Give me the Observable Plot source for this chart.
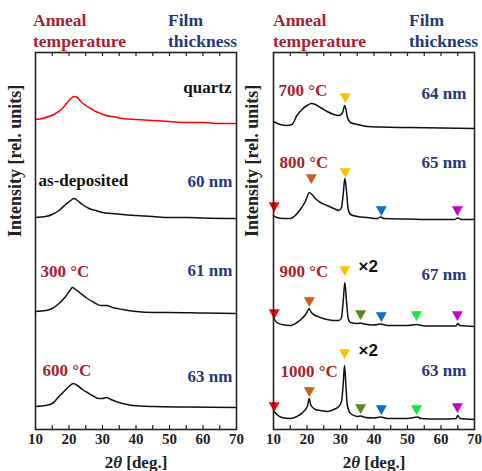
<!DOCTYPE html>
<html><head><meta charset="utf-8">
<script src="https://cdn.jsdelivr.net/npm/d3@7"></script>
<script src="https://cdn.jsdelivr.net/npm/@observablehq/plot@0.6"></script>
<style>
body{margin:0;background:#fff;font-family:'Liberation Serif','DejaVu Serif','Times New Roman',serif;}
#wrap{position:relative;width:482px;height:471px;overflow:hidden;}
.col{position:absolute;top:0;width:241px;height:471px;}
.hdr{position:absolute;top:10px;font-family:'Liberation Serif','DejaVu Serif',serif;font-weight:bold;font-size:17.5px;line-height:21px;white-space:pre;}
.red{color:#a5232b}.blue{color:#1f3b7a}
.plot{position:absolute;top:50px;left:0;}
svg{overflow:visible;}
svg text{font-family:'Liberation Serif','DejaVu Serif',serif;}
svg text.sans{font-family:'Liberation Sans','DejaVu Sans',sans-serif;}
</style></head><body>
<div id="wrap"></div>
<script>
// ---------- data ----------
const xTicks = [10, 20, 30, 40, 50, 60, 70];
const headers = ["Anneal\ntemperature", "Film\nthickness"];

// left panel
const leftNames = ["quartz", "as-deposited", "300 °C", "600 °C"];
const leftThickness = ["", "60 nm", "61 nm", "63 nm"];
const leftOffsets = [306, 211, 116, 22];
const quartz = [[10,4],[12,5],[14,7],[16,10],[18,15],[19.5,21],[20.5,25],[21.5,27],[22.5,26],[23.5,22],[25,18],[26.5,15],[28,12],[29.5,10],[31,8],[33,7],[36,5],[40,4],[45,3],[50,2],[55,1],[60,1],[65,0],[70,0]];
const asDeposited = [[10,1],[13,2],[15,4],[17,8],[19,14],[20.5,18],[21.5,20],[22.5,18],[24,14],[26,10],[28,8],[30,6],[33,5],[36,4],[40,3],[45,2],[50,1],[55,1],[60,0.5],[70,0]];
const ann300 = [[10,2],[13,3],[15,5],[17,10],[19,17],[20.3,23],[21,26],[22,24],[23.5,20],[25.5,15],[27.5,11],[29.5,8],[31.2,8],[33,6],[36,4],[40,2],[45,1],[50,1],[60,0.5],[70,0]];
const ann600 = [[10,1],[13,2],[15,4],[17,11],[18.5,16],[20,21],[21.3,24],[22.5,22],[24,18],[25.5,15],[27,12],[28.8,9],[30,9],[31.2,10],[32.5,8],[34,6],[36,4],[39,2],[45,1],[55,0.5],[70,0]];

// right panel
const rightNames = ["700 °C", "800 °C", "900 °C", "1000 °C"];
const rightThickness = ["64 nm", "65 nm", "67 nm", "63 nm"];
const rightOffsets = [301, 210, 103, 10];
const rightFactor = ["", "", "×2", "×2"];
const ann700 = [[10,7],[12,4],[14,3],[15.5,4],[17,13],[18.5,19],[20,23],[21.3,25],[22.5,24],[24,21],[26,17],[28,14],[29.5,13],[30.5,15],[31.3,23],[32,12],[33,6],[35,4],[38,2],[42,1.5],[50,1],[60,0.5],[70,0]];
const ann800 = [[10,4],[11,2],[13,1],[15,1],[16.5,4],[18,10],[19.5,18],[20.7,27],[21.5,25],[22.5,21],[24,17],[26,14],[28,11],[29.5,9],[30.3,12],[30.8,25],[31.3,41],[31.8,28],[32.3,10],[33,5],[35,3],[38,2],[41,1],[42,2.5],[43,1],[50,0.5],[60,0],[64,0],[65,1.5],[66,0],[70,0]];
const ann900 = [[10,9],[11,4],[12.5,2],[15,1],[17,4],[18.5,8],[19.8,13],[20.6,18],[21.3,14],[22.5,11],[24,9],[26,7],[28,6],[29.5,6],[30.3,9],[30.8,25],[31.3,44],[31.8,25],[32.3,8],[33,4],[35,3],[36,3.5],[37,2.5],[40,1.5],[42,2.5],[44,1],[50,1],[52.8,2],[55,0.5],[60,0.5],[64.5,0.5],[65,3],[65.6,1],[70,0]];
const ann1000 = [[10,9],[11,5],[12.5,2],[15,1],[17,3],[19,8],[20.2,14],[20.6,21],[21.2,14],[22.5,10],[24,9],[26,8],[28,10],[29.5,13],[30.3,18],[30.8,35],[31.2,54],[31.6,35],[32,15],[33,6],[35,3],[36,3.5],[37.5,2],[40,1.5],[42,2.5],[44,1],[50,1],[53,2.5],[54,1],[60,0.5],[64.5,1],[65,4],[65.7,1],[70,0]];

// peak markers: [phase, 2theta, height above baseline]
const phaseColors = {A:"#ff0000", B:"#c8601a", C:"#ffc000", D:"#5a8a1e", E:"#0a70c4", F:"#11e83a", G:"#cc00cc"};
const peaks700 = [["C",31.4,32]];
const peaks800 = [["A",10.2,14],["B",21.3,42],["C",31.4,48],["E",42.2,10],["G",64.9,10]];
const peaks900 = [["A",10.2,14],["B",20.7,26],["C",31.3,57],["D",36.0,13],["E",42.2,11],["F",52.7,12],["G",64.9,12]];
const peaks1000 = [["A",10.2,14],["B",20.7,29],["C",31.2,67],["D",36.0,12],["E",42.2,11],["F",52.7,11],["G",64.9,13]];

// ---------- layout (label placement relative to each baseline) ----------
const leftLayout = [
  {name:[68.5,36,"end"], thick:null},
  {name:[10.9,38,"start"], thick:[68.8,37]},
  {name:[11.5,42,"start"], thick:[68.8,43]},
  {name:[12.1,37,"start"], thick:[68.8,31]}
];
const rightLayout = [
  {name:[11.5,38,"start"], thick:[67.6,35], fac:null},
  {name:[11.8,57,"start"], thick:[67.6,57], fac:null},
  {name:[11.8,55,"start"], thick:[67.6,52], fac:[35.4,60]},
  {name:[12.1,48,"start"], thick:[67.6,49], fac:[35.4,69]}
];

const RED = "#a5232b", BLUE = "#1f3b7a";
const SERIF = "'Liberation Serif', 'DejaVu Serif', serif";
const SANS = "'Liberation Sans', 'DejaVu Sans', sans-serif";

function panel(o) {
  const marks = [];
  o.curves.forEach((c, i) => marks.push(Plot.line(c, {
    x: d => d[0], y: d => d[1] + o.offsets[i],
    stroke: o.colors[i], strokeWidth: 1.5, curve: "monotone-x"
  })));
  const mk = [];
  o.markers.forEach((list, i) => list.forEach(([p, x, h]) => mk.push({p, x, y: h + o.offsets[i]})));
  if (mk.length) marks.push(Plot.dot(mk, {x: "x", y: "y", symbol: "triangle", rotate: 180, r: 4.1,
    fill: d => phaseColors[d.p], stroke: "none"}));
  const startT = [], endT = [], facT = [];
  o.layout.forEach((L, i) => {
    const nm = {x: L.name[0], y: L.name[1] + o.offsets[i], text: o.names[i], color: o.nameColors[i]};
    (L.name[2] === "end" ? endT : startT).push(nm);
    if (L.thick) endT.push({x: L.thick[0], y: L.thick[1] + o.offsets[i], text: o.thick[i], color: BLUE});
    if (L.fac) facT.push({x: L.fac[0], y: L.fac[1] + o.offsets[i], text: o.factor[i]});
  });
  const tOpts = {x: "x", y: "y", text: "text", fill: "color", fontSize: 17, fontWeight: "bold", fontFamily: SERIF};
  marks.push(Plot.text(startT, {...tOpts, textAnchor: "start"}));
  marks.push(Plot.text(endT, {...tOpts, textAnchor: "end"}));
  if (facT.length) marks.push(Plot.text(facT, {x: "x", y: "y", text: "text", textAnchor: "start", fill: "#111",
    fontSize: 17, fontWeight: "bold", fontFamily: SANS, className: "sans"}));
  marks.push(Plot.frame({stroke: "#222", strokeWidth: 1.6}));
  const minor = d3.range(15, 70, 5);
  marks.push(Plot.ruleX(minor, {x: d => d, y1: 0, y2: 4, stroke: "#222", strokeWidth: 1.2}));
  marks.push(Plot.ruleX(minor, {x: d => d, y1: 373, y2: 377, stroke: "#222", strokeWidth: 1.2}));
  marks.push(Plot.axisX(xTicks, {tickSize: 0, tickPadding: 4, fontSize: 15, fontWeight: "bold", fontFamily: SERIF, label: null, color: "#222"}));
  marks.push(Plot.text(["2θ [deg.]"], {text: d => d, frameAnchor: "bottom", lineAnchor: "bottom", dy: 38, fontSize: 17, fontWeight: "bold", fontFamily: SERIF, fill: "#222"}));
  marks.push(Plot.text(["Intensity [rel. units]"], {text: d => d, frameAnchor: "left", rotate: -90, dx: o.labelDx, dy: -4, fontSize: 18, fontWeight: "bold", fontFamily: SERIF, fill: "#222"}));
  const svg = Plot.plot({
    width: 241, height: 421, marginTop: 2, marginBottom: 42,
    marginLeft: o.marginLeft, marginRight: o.marginRight,
    x: {domain: [10, 70]}, y: {domain: [0, 377], axis: null},
    color: {type: "identity"},
    style: {fontFamily: SERIF, background: "transparent", overflow: "visible"},
    marks
  });
  svg.querySelectorAll("text").forEach(t => {
    if (t.textContent === "2θ [deg.]") {
      t.innerHTML = '2<tspan font-style="italic">θ</tspan> [deg.]';
    }
    if (t.textContent === "×2") t.setAttribute("class", "sans");
  });
  svg.querySelectorAll("g[aria-label='text'] text").forEach(t => {
    if (t.textContent === "×2") { t.style.fontFamily = SANS; }
  });
  return svg;
}

function column(left, svg, hdrLeft) {
  const col = document.createElement("div");
  col.className = "col"; col.style.left = left + "px";
  const h1 = document.createElement("div");
  h1.className = "hdr red"; h1.style.left = hdrLeft[0] + "px"; h1.textContent = headers[0];
  const h2 = document.createElement("div");
  h2.className = "hdr blue"; h2.style.left = hdrLeft[1] + "px"; h2.textContent = headers[1];
  const p = document.createElement("div"); p.className = "plot"; p.appendChild(svg);
  col.append(h1, h2, p);
  document.getElementById("wrap").appendChild(col);
}

const leftSvg = panel({
  curves: [quartz, asDeposited, ann300, ann600], offsets: leftOffsets,
  colors: ["#ff0000", "#111", "#111", "#111"],
  names: leftNames, nameColors: ["#111", "#111", RED, RED], thick: leftThickness,
  layout: leftLayout, markers: [[], [], [], []], factor: ["", "", "", ""],
  marginLeft: 35, marginRight: 5, labelDx: -20
});
const rightSvg = panel({
  curves: [ann700, ann800, ann900, ann1000], offsets: rightOffsets,
  colors: ["#111", "#111", "#111", "#111"],
  names: rightNames, nameColors: [RED, RED, RED, RED], thick: rightThickness,
  layout: rightLayout, markers: [peaks700, peaks800, peaks900, peaks1000], factor: rightFactor,
  marginLeft: 32, marginRight: 8, labelDx: -21
});
column(0, leftSvg, [33, 168]);
column(241, rightSvg, [32, 168]);
</script>
</body></html>
